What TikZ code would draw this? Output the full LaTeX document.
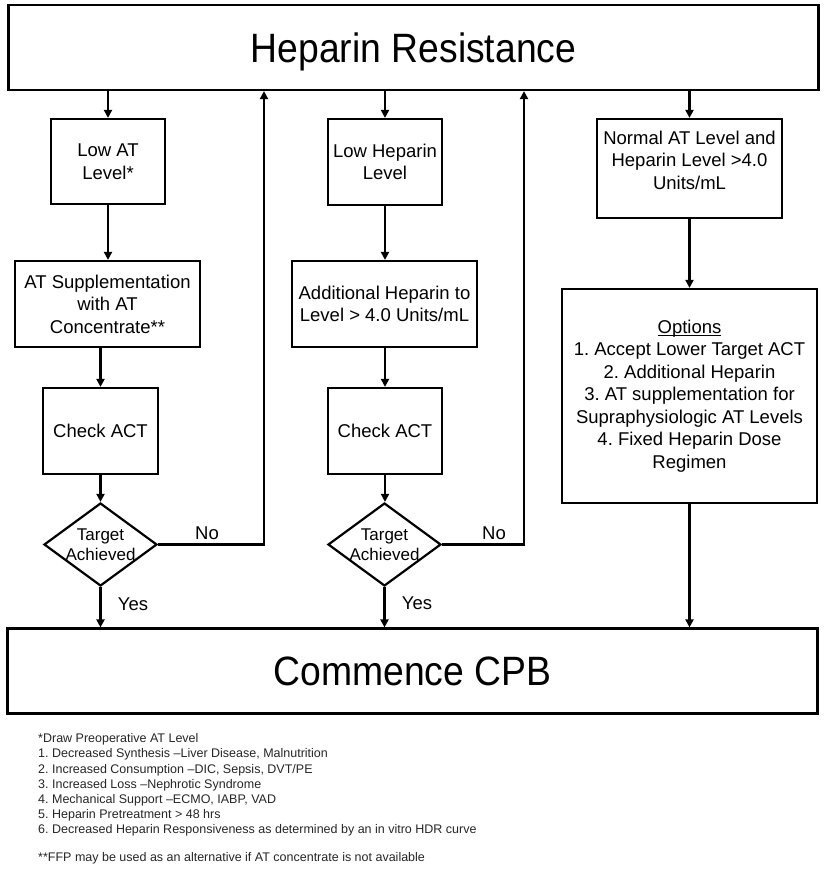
\documentclass[tikz,border=0pt]{standalone}
\usepackage{fontspec}
\setmainfont{Liberation Sans}
\usetikzlibrary{arrows.meta,shapes.geometric}
\newcommand{\hrbody}{\fontsize{18.5}{22.5}\selectfont}
\newcommand{\hrdia}{\fontsize{17}{20}\selectfont}
\newcommand{\hrnote}{\fontsize{12.5}{15.2}\selectfont}
\newcommand{\hrtitle}[1]{\scalebox{0.91}[1]{\fontsize{41}{45}\selectfont #1}}
\newcommand{\hrul}[1]{\setbox0\hbox{#1}\rlap{\rule[-3pt]{\wd0}{1.2pt}}\box0}
\frenchspacing
\begin{document}
\frenchspacing
\begin{tikzpicture}[x=1pt,y=-1pt,
  box/.style={draw,line width=2.2pt,align=center,inner sep=2pt,font=\hrbody},
  bigbox/.style={draw,line width=2.2pt,inner sep=0pt,text depth=0pt,minimum width=810pt,minimum height=85pt},
  dia/.style={draw,diamond,line width=2.2pt,inner sep=0pt,minimum width=113pt,minimum height=83pt},
  dtext/.style={font=\hrdia,align=center,inner sep=0pt},
  arr/.style={line width=2.2pt,-{Triangle[length=8pt,width=8pt]}},
  lbl/.style={font=\hrbody,inner sep=0pt}]
\useasboundingbox (0,0) rectangle (826,883);

% big boxes
\node[bigbox] (top) at (413.5,47.5) {\hrtitle{Heparin Resistance}};
\node[bigbox] (bottom) at (412.5,671) {\hrtitle{Commence CPB}};

% column 1
\node[box,minimum width=114pt,minimum height=85pt] (lowat) at (108,161.5) {Low AT\\Level*};
\node[box,minimum width=185pt,minimum height=86pt] (atsup) at (107.5,304) {AT Supplementation\\with AT\\Concentrate**};
\node[box,minimum width=115pt,minimum height=86pt] (check1) at (100.5,431) {Check ACT};
\node[dia,label={[dtext]center:Target\\Achieved}] (d1) at (100.5,544.5) {};

% column 2
\node[box,minimum width=114pt,minimum height=86pt] (lowhep) at (385,162) {Low Heparin\\Level};
\node[box,minimum width=185pt,minimum height=86pt] (addhep) at (384.5,304) {Additional Heparin to\\Level > 4.0 Units/mL};
\node[box,minimum width=114pt,minimum height=86pt] (check2) at (385,431) {Check ACT};
\node[dia,label={[dtext]center:Target\\Achieved}] (d2) at (384.5,544.5) {};

% column 3
\node[box,minimum width=185pt,minimum height=99pt] (normal) at (689.5,168.5) {Normal AT Level and\\Heparin Level >4.0\\Units/mL\\[-6pt]\mbox{}};
\node[box,minimum width=255pt,minimum height=214pt] (options) at (689.5,396) {\hrul{Options}\\1. Accept Lower Target ACT\\2. Additional Heparin\\3. AT supplementation for\\Supraphysiologic AT Levels\\4. Fixed Heparin Dose\\Regimen};

% labels
\node[lbl] (noA) at (207,533) {No};
\node[lbl] (noB) at (494,533) {No};
\node[lbl] (yesA) at (133,604) {Yes};
\node[lbl] (yesB) at (417,603.5) {Yes};

% connectors column 1
\draw[arr] (top.south -| lowat) -- (lowat.north);
\draw[arr] (lowat.south) -- (lowat.south |- atsup.north);
\draw[arr] (atsup.south -| check1) -- (check1.north);
\draw[arr] (check1.south) -- (d1.north);
\draw[arr] (d1.south) -- (d1.south |- bottom.north);
\coordinate (rA) at (264,544.5);
\draw[arr] (d1.east) -- (rA) -- (rA |- top.south);

% connectors column 2
\draw[arr] (top.south -| lowhep) -- (lowhep.north);
\draw[arr] (lowhep.south) -- (lowhep.south |- addhep.north);
\draw[arr] (addhep.south -| check2) -- (check2.north);
\draw[arr] (check2.south) -- (check2.south |- d2.north);
\draw[arr] (d2.south) -- (d2.south |- bottom.north);
\coordinate (rB) at (524,544.5);
\draw[arr] (d2.east) -- (rB) -- (rB |- top.south);

% connectors column 3
\draw[arr] (top.south -| normal) -- (normal.north);
\draw[arr] (normal.south) -- (options.north);
\draw[arr] (options.south) -- (options.south |- bottom.north);

% footnotes
\node[anchor=north west,inner sep=0pt,align=left,font=\hrnote,text=black!85] (notes) at (38,733.5) {*Draw Preoperative AT Level\\
1. Decreased Synthesis –Liver Disease, Malnutrition\\
2. Increased Consumption –DIC, Sepsis, DVT/PE\\
3. Increased Loss –Nephrotic Syndrome\\
4. Mechanical Support –ECMO, IABP, VAD\\
5. Heparin Pretreatment > 48 hrs\\
6. Decreased Heparin Responsiveness as determined by an in vitro HDR curve\\[12.8pt]
**FFP may be used as an alternative if AT concentrate is not available};
\end{tikzpicture}
\end{document}
